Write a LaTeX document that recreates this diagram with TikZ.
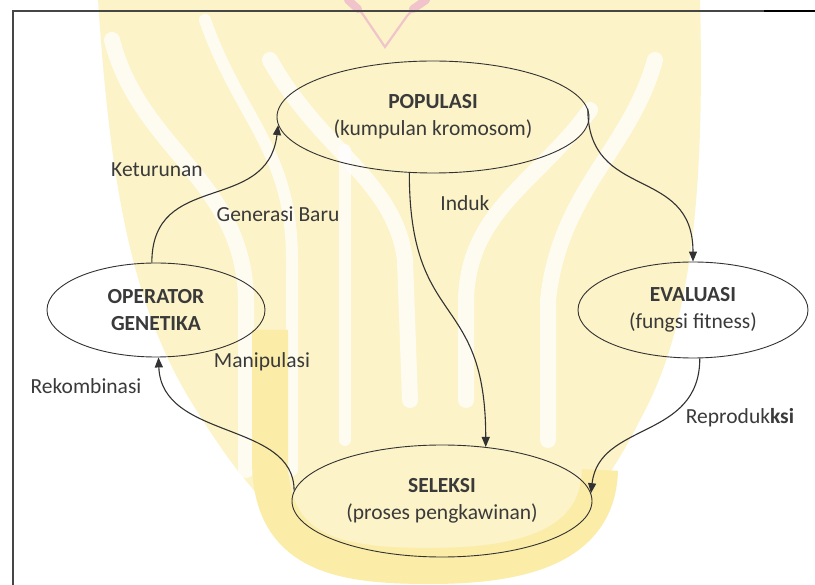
\documentclass[tikz,border=0pt]{standalone}
\usepackage{fontspec}
\setmainfont{Carlito}
\usetikzlibrary{arrows.meta,shapes.geometric}

\definecolor{inkline}{RGB}{50,50,50}
\definecolor{inktext}{RGB}{58,58,58}
\definecolor{wmdeep}{RGB}{251,236,168}
\definecolor{wmpale}{RGB}{252,243,200}
\definecolor{wmpink}{RGB}{240,196,202}
\definecolor{framegray}{RGB}{70,70,70}

\tikzset{
  stage/.style={ellipse, draw=inkline, line width=0.9pt, inner sep=0pt,
    align=center, text=inktext, font=\fontsize{21.5}{27}\selectfont},
  tag/.style={text=inktext, font=\fontsize{21.5}{26}\selectfont, inner sep=0pt},
  flow/.style={draw=inkline, line width=1.1pt,
    -{Triangle[length=10pt,width=8pt]}},
  wmgap/.style={draw=white, line cap=round, opacity=0.75},
}

\begin{document}
\begin{tikzpicture}[x=1pt,y=-1pt]
\useasboundingbox (0,0) rectangle (815,585);
\fill[white] (0,0) rectangle (815,585);

% faint logo in the background
\begin{scope}
  % body of the emblem
  \fill[wmpale] (98,0) .. controls (110,180) and (130,300) .. (190,400)
        .. controls (240,480) and (300,572) .. (425,572)
        .. controls (545,572) and (600,500) .. (640,420)
        .. controls (690,330) and (705,200) .. (700,0) -- cycle;
  % light gaps between the strands
  \draw[wmgap, line width=16] (112,40) .. controls (140,150) and (244,180) .. (246,300) -- (246,470);
  \draw[wmgap, line width=12] (205,20) .. controls (240,120) and (292,150) .. (292,260) -- (292,470);
  \draw[wmgap, line width=16] (270,60) .. controls (320,150) and (395,180) .. (405,260) -- (410,400);
  \draw[wmgap, line width=16] (655,60) .. controls (630,150) and (560,190) .. (548,300) -- (548,440);
  \draw[wmgap, line width=16] (590,110) .. controls (540,180) and (468,210) .. (466,300) -- (466,400);
  \draw[wmgap, line width=12] (345,150) -- (345,440);
  % rounded band below the lower stage
  \draw[wmdeep, line width=36] (270,330) -- (270,460)
        .. controls (270,555) and (340,566) .. (430,566)
        .. controls (520,566) and (598,548) .. (600,470);
  % small mark at the top
  \draw[wmpink, line width=2.2] (355,4) -- (364,16) -- (385,47) -- (407,16) -- (418,4);
  \draw[wmpink, line width=8, line cap=round] (348,0) -- (358,9);
  \draw[wmpink, line width=8, line cap=round] (426,0) -- (413,9);
\end{scope}

% border lines
\draw[framegray, line width=2pt] (13,585) -- (13,11) -- (764,11);
\draw[black, line width=2.5pt] (764,11) -- (815,11);

% stages of the cycle
\node[stage, minimum width=312pt, minimum height=112pt] (pop) at (433,117)
  {\textbf{POPULASI}\\(kumpulan kromosom)};
\node[stage, minimum width=230pt, minimum height=96pt] (eva) at (693,310)
  {\textbf{EVALUASI}\\(fungsi fitness)};
\node[stage, minimum width=218pt, minimum height=94pt] (ope) at (156,310)
  {\textbf{OPERATOR}\\\textbf{GENETIKA}};
\node[stage, minimum width=300pt, minimum height=112pt] (sel) at (442,501)
  {\textbf{SELEKSI}\\(proses pengkawinan)};

% connectors
\draw[flow] (ope.95) .. controls +(0,-93) and +(-11,90) .. (pop.183);
\draw[flow] (pop.3) .. controls +(0,93) and +(0,-97) .. (eva.north);
\draw[flow] (pop.247) .. controls +(0,158) and +(0,-157) .. (sel.51);
\draw[flow] (eva.278) .. controls +(0,82) and +(8,-72) .. (sel.3);
\draw[flow] (sel.176) .. controls +(0,-70) and +(3,83) .. (ope.273);

% connector labels
\node[tag] (lketurunan) at (157,170) {Keturunan};
\node[tag] (lgenerasi) at (278,214) {Generasi Baru};
\node[tag] (linduk) at (465,203) {Induk};
\node[tag] (lmanipulasi) at (262,362) {Manipulasi};
\node[tag] (lrekombinasi) at (86,386) {Rekombinasi};
\node[tag] (lreproduksi) at (740,418) {Reproduk\textbf{ksi}};
\end{tikzpicture}
\end{document}
